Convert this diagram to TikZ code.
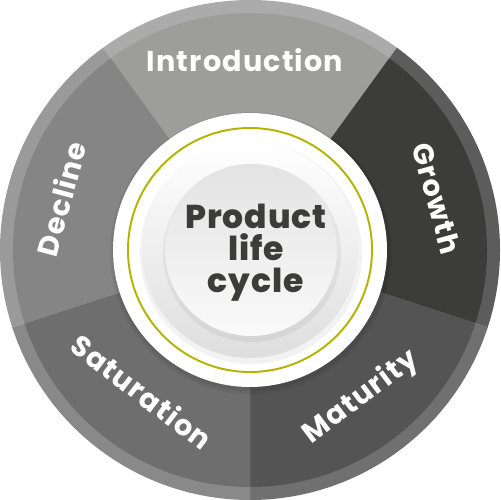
\documentclass[tikz,border=0pt]{standalone}
\usepackage{fontspec}
\setmainfont{Poppins}
\newfontfamily\titlefont{Poppins ExtraBold}
\definecolor{introC}{HTML}{9D9D9C}
\definecolor{introR}{HTML}{ABABAB}
\definecolor{growC}{HTML}{3C3C3B}
\definecolor{growR}{HTML}{5C5C5C}
\definecolor{matC}{HTML}{545454}
\definecolor{matR}{HTML}{707070}
\definecolor{satC}{HTML}{6E6E6E}
\definecolor{satR}{HTML}{898989}
\definecolor{decC}{HTML}{858585}
\definecolor{decR}{HTML}{9A9A9A}
\definecolor{ringY}{HTML}{B5B300}
\definecolor{titleC}{HTML}{3C3C3B}
\tikzset{
  lbl/.style={text=white, font=\fontsize{16.3}{18}\selectfont\bfseries\addfontfeatures{LetterSpace=4}, text depth=0pt, inner sep=0pt},
}
\newcommand{\sector}[4]{%
  \fill[#3] (0,0) -- (#1:250) arc[start angle=#1, end angle=#2, radius=250] -- cycle;
  \fill[#4] (0,0) -- (#1:237) arc[start angle=#1, end angle=#2, radius=237] -- cycle;
}
\begin{document}
\begin{tikzpicture}[x=0.02cm,y=0.02cm]
\useasboundingbox (-250,-250) rectangle (250,250);
\sector{54}{126}{introR}{introC}
\sector{-18}{54}{growR}{growC}
\sector{-90}{-18}{matR}{matC}
\sector{198}{270}{satR}{satC}
\sector{126}{198}{decR}{decC}
% centre
\fill[black, opacity=0.06] (1,-3) circle[radius=141];
\fill[black, opacity=0.06] (1,-2) circle[radius=139];
\fill[white] (0,0) circle[radius=137];
\draw[ringY, line width=1.1pt] (0,0) circle[radius=122];
\fill[black, opacity=0.05] (1,-3) circle[radius=111];
\shade[top color=white, bottom color=black!13] (0,0) circle[radius=108];
\fill[black, opacity=0.05] (2,-3) circle[radius=89];
\shade[top color=black!11, bottom color=black!2] (1,0) circle[radius=86];
\node[font=\titlefont\fontsize{18.8}{18.8}\selectfont\addfontfeatures{LetterSpace=3}, text=titleC, align=center, text depth=0pt] (title) at (6,2) {Product\\[-0.5pt]life\\[-0.5pt]cycle};
% labels
\node[lbl] (intro) at (-5,190) {Introduction};
\node[lbl, rotate=-74.5] (growth) at (15.5:194) {Growth};
\node[lbl, rotate=37] (maturity) at (-53:181) {Maturity};
\node[lbl, rotate=322.7] (saturation) at (232.7:178) {Saturation};
\node[lbl, rotate=74.9] (decline) at (164.9:196) {Decline};
\end{tikzpicture}
\end{document}
